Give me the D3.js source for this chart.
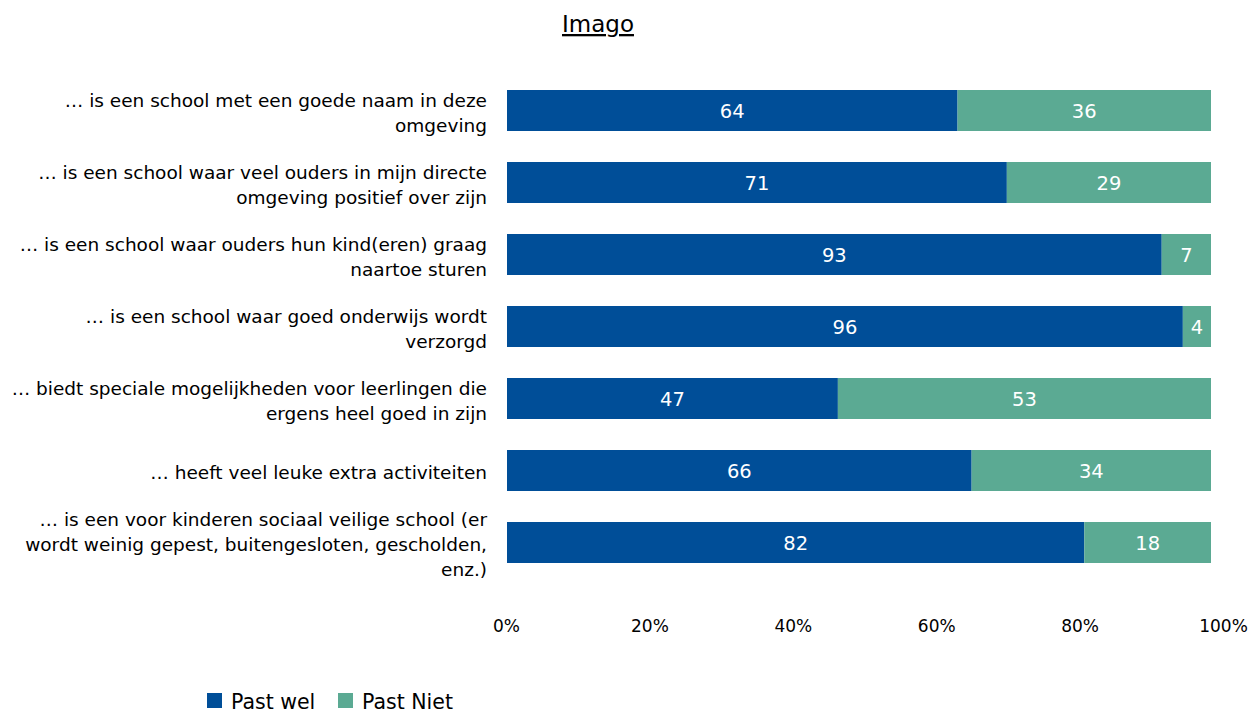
<!DOCTYPE html>
<html>
<head>
<meta charset="utf-8">
<script src="https://cdn.jsdelivr.net/npm/d3@7"></script>
<style>
  html, body { margin: 0; padding: 0; background: #fff; }
  svg { display: block; font-family: "DejaVu Sans", Verdana, sans-serif; }
</style>
</head>
<body>
<svg id="chart" width="1260" height="715"></svg>
<script>
const title = "Imago";
const categories = [
  "… is een school met een goede naam in deze\nomgeving",
  "… is een school waar veel ouders in mijn directe\nomgeving positief over zijn",
  "… is een school waar ouders hun kind(eren) graag\nnaartoe sturen",
  "… is een school waar goed onderwijs wordt\nverzorgd",
  "… biedt speciale mogelijkheden voor leerlingen die\nergens heel goed in zijn",
  "… heeft veel leuke extra activiteiten",
  "… is een voor kinderen sociaal veilige school (er\nwordt weinig gepest, buitengesloten, gescholden,\nenz.)"
];
const seriesNames = ["Past wel", "Past Niet"];
const pastWel  = [64, 71, 93, 96, 47, 66, 82];
const pastNiet = [36, 29, 7, 4, 53, 34, 18];
const tickValues = [0, 20, 40, 60, 80, 100];
const colors = ["#004E98", "#5BAA93"];

const svg = d3.select("#chart");

const rows = categories.map((c, i) => ({ cat: c, "Past wel": pastWel[i], "Past Niet": pastNiet[i] }));
const stacked = d3.stack().keys(seriesNames)(rows);

const x = d3.scaleLinear().domain([0, 100]).range([507, 1211]);
const xAxisScale = d3.scaleLinear().domain([0, 100]).range([506, 1223]);
const y = d3.scaleBand().domain(categories).range([74.5, 578.5])
  .paddingInner(31 / 72).paddingOuter(15.5 / 72);
const color = d3.scaleOrdinal().domain(seriesNames).range(colors);

// title
svg.append("text")
  .attr("x", 598).attr("y", 32)
  .attr("text-anchor", "middle")
  .attr("font-size", 23)
  .attr("fill", "#000")
  .attr("text-decoration", "underline")
  .text(title);

// bars
const layers = svg.append("g").selectAll("g")
  .data(stacked).join("g")
  .attr("fill", d => color(d.key));

layers.selectAll("rect")
  .data(d => d)
  .join("rect")
  .attr("x", d => x(d[0]))
  .attr("width", d => x(d[1]) - x(d[0]))
  .attr("y", d => y(d.data.cat))
  .attr("height", y.bandwidth());

// value labels
layers.selectAll("text")
  .data(d => d.map(v => ({ v, key: d.key })))
  .join("text")
  .attr("x", d => (x(d.v[0]) + x(d.v[1])) / 2)
  .attr("y", d => y(d.v.data.cat) + y.bandwidth() / 2 + 7)
  .attr("text-anchor", "middle")
  .attr("font-size", 19.5)
  .attr("fill", "#fff")
  .text(d => d.v.data[d.key]);

// category labels
const lineH = 25;
const labG = svg.append("g");
categories.forEach(c => {
  const lines = c.split("\n");
  const cy = y(c) + y.bandwidth() / 2;
  const t = labG.append("text")
    .attr("text-anchor", "end")
    .attr("font-size", 18.5)
    .attr("fill", "#000");
  lines.forEach((ln, i) => {
    t.append("tspan")
      .attr("x", 487)
      .attr("y", cy + (i - (lines.length - 1) / 2) * lineH + 8.5)
      .text(ln);
  });
});

// x axis (labels only)
const axis = d3.axisBottom(xAxisScale)
  .tickValues(tickValues)
  .tickFormat(d => d + "%")
  .tickSize(0)
  .tickPadding(0);
const axG = svg.append("g").attr("transform", "translate(0,618)").call(axis);
axG.select(".domain").remove();
axG.selectAll("text")
  .attr("font-size", 17)
  .attr("font-family", "DejaVu Sans, Verdana, sans-serif")
  .attr("fill", "#000")
  .attr("dy", "0.85em");

// legend
const legendX = [207, 338];
const lg = svg.append("g").selectAll("g")
  .data(seriesNames).join("g")
  .attr("transform", (d, i) => `translate(${legendX[i]},693)`);
lg.append("rect").attr("width", 15).attr("height", 15).attr("fill", d => color(d));
lg.append("text")
  .attr("x", 24).attr("y", 16)
  .attr("font-size", 20.5)
  .attr("fill", "#000")
  .text(d => d);
</script>
</body>
</html>
